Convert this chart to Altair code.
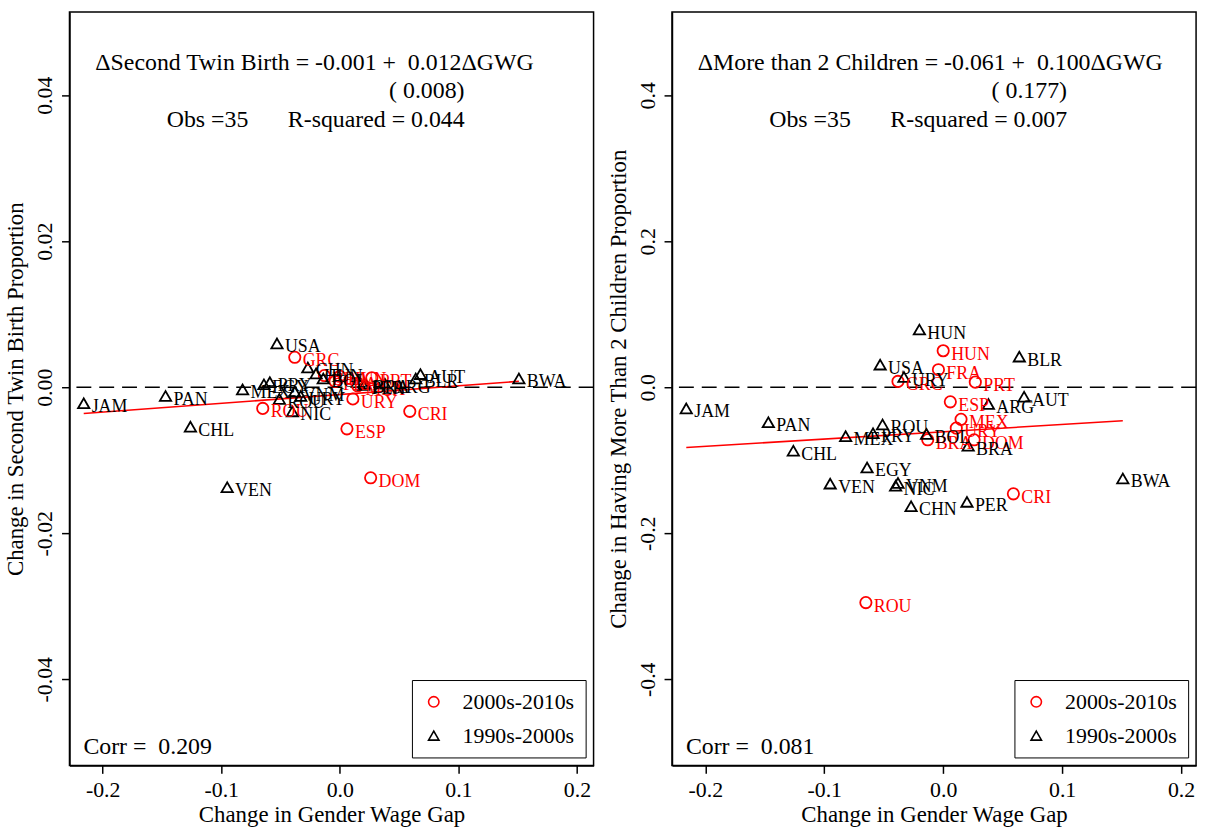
import altair as alt
import pandas as pd

# ---- data ----
countries_90 = ["JAM", "PAN", "CHL", "VEN", "MEX", "EGY", "PRY", "ROU", "USA", "URY", "VNM",
                "NIC", "CHN", "HUN", "BOL", "BRA", "PER", "ARG", "AUT", "BLR", "BWA"]
gwg_90 = [-0.216, -0.147, -0.126, -0.095, -0.082, -0.064, -0.059, -0.051, -0.053, -0.033, -0.038,
          -0.040, -0.027, -0.020, -0.014, 0.021, 0.020, 0.038, 0.068, 0.064, 0.151]
twin_90 = [-0.0022, -0.0012, -0.0054, -0.0137, -0.0003, 0.0004, 0.0007, -0.0016, 0.0060, -0.0012, -0.0006,
           -0.0033, 0.0027, 0.0019, 0.0012, 0.0005, 0.0003, 0.0005, 0.0018, 0.0012, 0.0012]
more_90 = [-0.029, -0.048, -0.087, -0.132, -0.067, -0.110, -0.063, -0.051, 0.031, 0.014, -0.131,
           -0.135, -0.163, 0.079, -0.064, -0.080, -0.157, -0.023, -0.013, 0.042, -0.125]

countries_00 = ["ROU", "GRC", "FRA", "HUN", "BRA", "URY", "ESP", "MEX", "DOM", "PRT", "CRI"]
gwg_00 = [-0.065, -0.038, -0.004, 0.000, -0.013, 0.011, 0.006, 0.015, 0.026, 0.027, 0.059]
twin_00 = [-0.0029, 0.0041, 0.0008, 0.0015, 0.0016, -0.0016, -0.0057, 0.0002, -0.0124, 0.0013, -0.0033]
more_00 = [-0.295, 0.008, 0.024, 0.050, -0.072, -0.056, -0.020, -0.044, -0.072, 0.007, -0.146]

periods = ["2000s-2010s", "1990s-2000s"]
coef_twin = [-0.001, 0.012]
coef_more = [-0.061, 0.100]

FONT = "Liberation Serif"

df = pd.concat([
    pd.DataFrame({"country": countries_00, "gwg": gwg_00, "twin": twin_00, "more": more_00,
                  "period": periods[0]}),
    pd.DataFrame({"country": countries_90, "gwg": gwg_90, "twin": twin_90, "more": more_90,
                  "period": periods[1]}),
], ignore_index=True)

xmin, xmax = df["gwg"].min(), df["gwg"].max()


def text_at(txt, px, py, align="left", size=24):
    return alt.Chart(alt.Data(values=[{}])).mark_text(
        text=txt, align=align, baseline="middle", font=FONT, fontSize=size, color="black"
    ).encode(x=alt.value(px), y=alt.value(py))


def panel(yfield, ydom, yticks, yfmt, ytitle, coef, eq, se, rsq, corr, xdom):
    xs = alt.Scale(domain=xdom, nice=False, zero=False)
    ys = alt.Scale(domain=ydom, nice=False, zero=False)
    xax = alt.Axis(values=[-0.2, -0.1, 0.0, 0.1, 0.2],
                   labelExpr="replace(format(datum.value, '.1f'), '\u2212', '-')",
                   title="Change in Gender Wage Gap", labelPadding=6, titlePadding=4)
    yax = alt.Axis(values=yticks,
                   labelExpr="replace(format(datum.value, '%s'), '\u2212', '-')" % yfmt,
                   title=ytitle, labelAngle=-90, labelAlign="center", labelBaseline="bottom",
                   labelPadding=5, titlePadding=6)
    x = alt.X("gwg:Q", scale=xs, axis=xax)
    y = alt.Y(f"{yfield}:Q", scale=ys, axis=yax)

    line_df = pd.DataFrame({"gwg": [xmin, xmax]})
    line_df[yfield] = coef[0] + coef[1] * line_df["gwg"]

    zero = alt.Chart(alt.Data(values=[{}])).mark_rule(
        color="black", strokeDash=[15, 8], strokeWidth=1.5
    ).encode(y=alt.datum(0, scale=ys))

    fit = alt.Chart(line_df).mark_line(color="red", strokeWidth=1.6).encode(x=x, y=y)

    pts = alt.Chart(df).mark_point(filled=False, size=130, strokeWidth=1.8, opacity=1).encode(
        x=x, y=y,
        color=alt.Color("period:N", scale=alt.Scale(domain=periods, range=["red", "black"]),
                        legend=alt.Legend(title=None)),
        shape=alt.Shape("period:N", scale=alt.Scale(domain=periods, range=["circle", "triangle-up"]),
                        legend=alt.Legend(title=None)),
    )

    labels = alt.Chart(df).mark_text(
        align="left", baseline="middle", dx=8, dy=4, font=FONT, fontSize=18
    ).encode(
        x=x, y=y, text="country:N",
        color=alt.condition(alt.datum.period == periods[0], alt.value("red"), alt.value("black")),
    )

    ann = [
        text_at(eq, 26, 51),
        text_at(se, 322, 80),
        text_at("Obs =35", 98, 109),
        text_at(rsq, 220, 109),
        text_at(corr, 14, 741),
    ]

    return alt.layer(zero, fit, pts, labels, *ann).properties(width=528, height=759)


left = panel("twin", [-0.0518, 0.0514], [-0.04, -0.02, 0.0, 0.02, 0.04], ".2f",
             "Change in Second Twin Birth Proportion", coef_twin,
             "\u0394Second Twin Birth = -0.001 +\u00a0 0.012\u0394GWG", "( 0.008)",
             "R-squared = 0.044", "Corr =\u00a0 0.209", [-0.228, 0.214])
right = panel("more", [-0.518, 0.514], [-0.4, -0.2, 0.0, 0.2, 0.4], ".1f",
              "Change in Having More Than 2 Children Proportion", coef_more,
              "\u0394More than 2 Children = -0.061 +\u00a0 0.100\u0394GWG", "( 0.177)",
              "R-squared = 0.007", "Corr =\u00a0 0.081", [-0.228, 0.2126])

chart = alt.hconcat(left, right, spacing=11).resolve_scale(
    color="independent", shape="independent"
).resolve_legend(color="independent", shape="independent").properties(
    padding={"left": 4, "top": 8, "right": 8, "bottom": 2}
).configure_view(stroke="black", strokeWidth=1.5).configure_axis(
    domainColor="black", domainWidth=1.5, tickColor="black", tickSize=8, tickWidth=1.5,
    labelFont=FONT, labelFontSize=22, labelColor="black",
    titleFont=FONT, titleFontSize=23, titleFontWeight="normal", titleColor="black",
    grid=False
).configure_legend(
    orient="bottom-right", offset=8, strokeColor="black", fillColor="white", padding=11,
    labelFont=FONT, labelFontSize=22, labelColor="black", symbolSize=110, symbolStrokeWidth=1.6,
    rowPadding=12, labelOffset=18
)

chart.save("out.html", embed_options={"renderer": "svg", "actions": False})
